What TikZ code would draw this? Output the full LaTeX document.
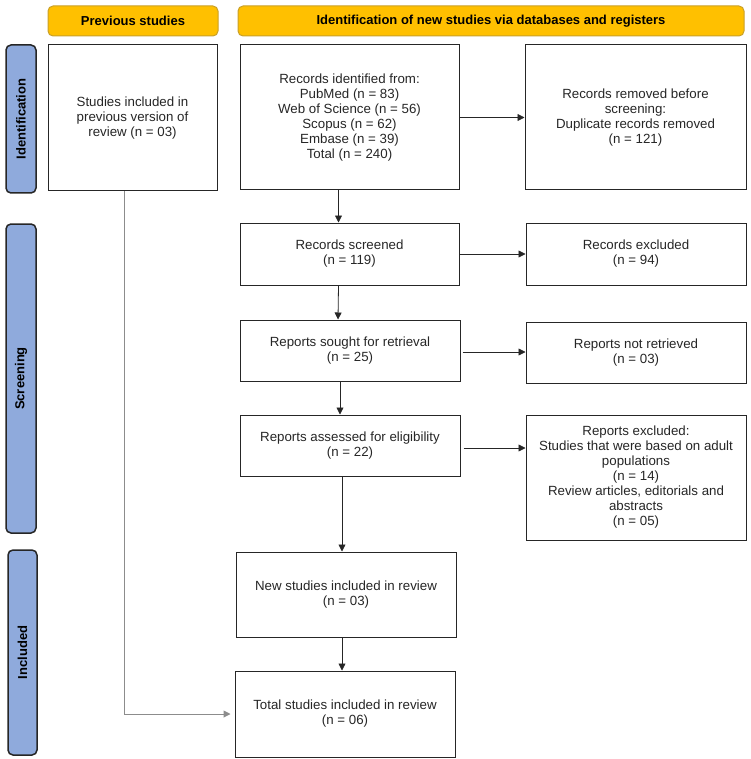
\documentclass[tikz,border=0pt]{standalone}
\usepackage{fontspec}
\setmainfont{Liberation Sans}
\usetikzlibrary{arrows.meta}

\definecolor{hdrfill}{RGB}{255,192,0}
\definecolor{hdrline}{RGB}{201,160,40}
\definecolor{phasefill}{RGB}{143,170,220}

\begin{document}
\begin{tikzpicture}
		[x=1pt,y=1pt,>={Triangle[length=7pt,width=7pt]},
		box/.style={rectangle,draw=black!85,line width=1pt,align=center,inner sep=2pt,text=black!85,
			font=\fontsize{13.3}{15}\selectfont},
		header/.style={rectangle,draw=hdrline,fill=hdrfill,rounded corners=5pt,line width=1pt,
			minimum height=30pt,font=\fontsize{13}{15}\selectfont\bfseries},
		phase/.style={rectangle,draw=black!85,fill=phasefill,rounded corners=5pt,line width=1.5pt,
			rotate=90,minimum height=30pt,font=\fontsize{13}{15}\selectfont\bfseries},
		flow/.style={->,draw=black!85,line width=0.8pt}]
		\useasboundingbox (0,0) rectangle (750,-759);

		% headers
		\node [header,minimum width=170pt] (hprev) at (133,-21) {Previous studies};
		\node [header,minimum width=506pt] (hnew) at (491,-21) {Identification of new studies via databases and registers};

		% phases down the left side
		\node [phase,minimum width=148pt] (sid) at (21,-119) {Identification};
		\node [phase,minimum width=309pt] (sscr) at (21,-378.5) {Screening};
		\node [phase,minimum width=205pt,minimum height=29pt] (sinc) at (22.5,-652.5) {Included};

		% previous studies
		\node [box,minimum width=169pt,minimum height=146pt] (prev) at (132.5,-118)
			{Studies included in\\previous version of\\review (n = 03)};

		% new studies
		\node [box,minimum width=219pt,minimum height=145pt] (ident) at (349.5,-117.5)
			{Records identified from:\\PubMed (n = 83)\\Web of Science (n = 56)\\Scopus (n = 62)\\Embase (n = 39)\\Total (n = 240)};
		\node [box,minimum width=221pt,minimum height=145pt] (removed) at (635.5,-117.5)
			{Records removed before\\screening:\\Duplicate records removed\\(n = 121)};

		\node [box,minimum width=219pt,minimum height=62pt] (screened) at (349.5,-254)
			{Records screened\\(n = 119)};
		\node [box,minimum width=220pt,minimum height=62pt] (excluded) at (636,-254)
			{Records excluded\\(n = 94)};

		\node [box,minimum width=220pt,minimum height=61pt] (sought) at (350,-350.5)
			{Reports sought for retrieval\\(n = 25)};
		\node [box,minimum width=220pt,minimum height=61pt] (notretr) at (636,-352.5)
			{Reports not retrieved\\(n = 03)};

		\node [box,minimum width=220pt,minimum height=61pt] (assessed) at (350,-445.5)
			{Reports assessed for eligibility\\(n = 22)};
		\node [box,minimum width=220pt,minimum height=125pt] (repexcl) at (636,-477.5)
			{Reports excluded:\\Studies that were based on adult\\populations\\(n = 14)\\Review articles, editorials and\\abstracts\\(n = 05)};

		\node [box,minimum width=220pt,minimum height=85pt] (newst) at (346,-594.5)
			{New studies included in review\\(n = 03)};
		\node [box,minimum width=220pt,minimum height=86pt] (total) at (345,-714)
			{Total studies included in review\\(n = 06)};

		% arrows down the main column
		\draw [flow] ([xshift=-11pt]ident.south) -- ([xshift=-11pt]screened.north);
		\draw [flow] ([xshift=-11pt]screened.south) -- ([xshift=-12pt]sought.north);
		\draw [flow] ([xshift=-10pt]sought.south) -- ([xshift=-10pt]assessed.north);
		\draw [flow] ([xshift=-8pt]assessed.south) -- ([xshift=-4pt]newst.north);
		\draw [flow] ([xshift=-4pt]newst.south) -- ([xshift=-3pt]total.north);

		% arrows to the exclusions
		\draw [flow] (ident.east) -- (removed.west);
		\draw [flow] (screened.east) -- (excluded.west);
		\draw [flow,shorten <=2pt] ([yshift=-1.5pt]sought.east) -- ([yshift=-1.5pt]sought.east -| notretr.west);
		\draw [flow,shorten <=3pt] ([yshift=-2.5pt]assessed.east) -- ([yshift=-2.5pt]assessed.east -| repexcl.west);

		% previous studies join the total
		\draw [->,draw=black!45,line width=1pt,shorten >=4pt] ([xshift=-8.5pt]prev.south) |- (total.west);

	\end{tikzpicture}
\end{document}
